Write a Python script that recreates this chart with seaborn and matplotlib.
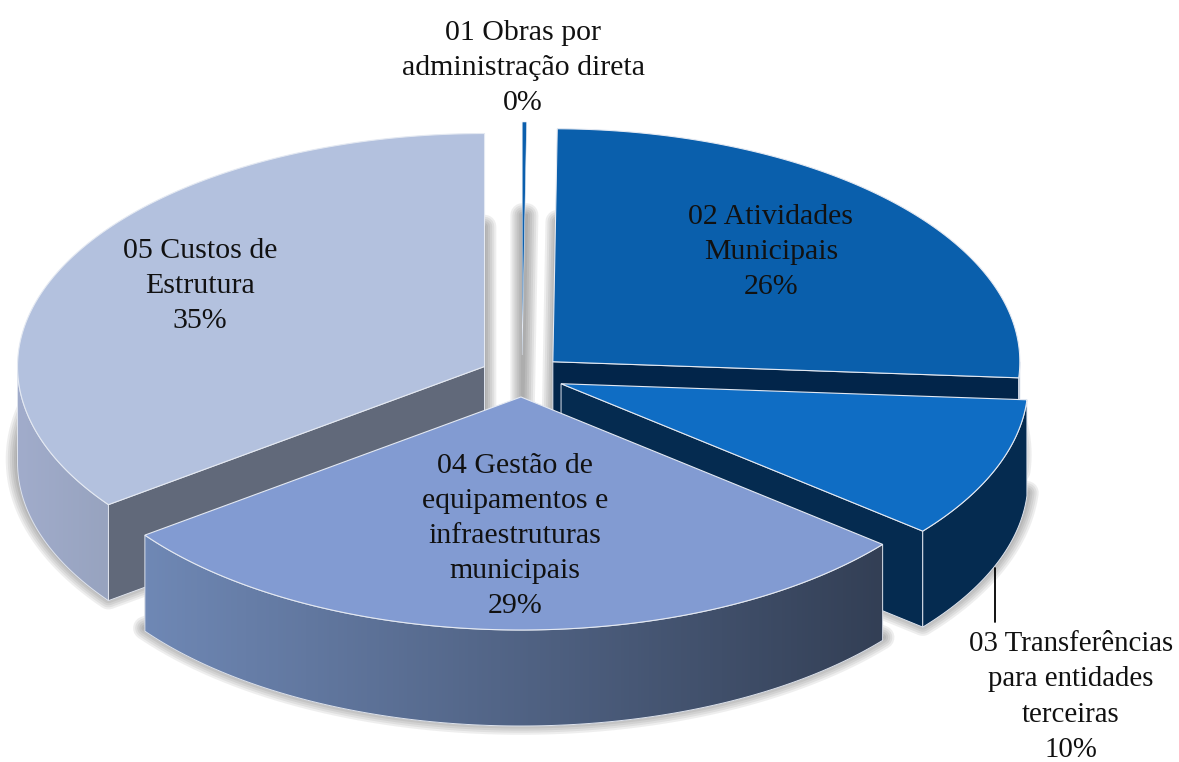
#!/usr/bin/python3

import numpy as np
import matplotlib
matplotlib.use('Agg')
import matplotlib.pyplot as plt
from matplotlib.patches import Polygon
import seaborn as sns

# -----------------------

names = ['01 Obras por\nadministração direta', '02 Atividades\nMunicipais',
	'03 Transferências\npara entidades\nterceiras',
	'04 Gestão de\nequipamentos e\ninfraestruturas\nmunicipais',
	'05 Custos de\nEstrutura']
shares = [0.15, 25.95, 9.8, 29.0, 35.1]
pct_labels = ['0%', '26%', '10%', '29%', '35%']

top_colors = ['#0b5fad', '#0a5fac', '#0f6dc4', '#829bd2', '#b3c1de']
cut_colors = ['#0b5fad', '#02254a', '#052b50', '#333f55', '#61697a']
wall_colors = [('#0b5fad', '#0b5fad'), ('#02254a', '#02254a'), ('#052b50', '#052b50'),
	('#6f88b5', '#333f55'), ('#a1accb', '#97a3bf')]

# text centres in pixels
label_pos = [(523, 68), (771, 252), (1071, 697), (515, 536), (200, 286)]
label_size = [21.5, 21.5, 20.8, 21.5, 21.5]

# -----------------------

W, H = 1179, 762
CX, CY = 522, 376
RX, RY = 467, 233
EXPLODE = 42
DEPTH = 96
FONT = 'Liberation Serif'

sns.set_theme(style='white')
plt.rcParams['font.family'] = [FONT, 'DejaVu Sans']

fig = plt.figure(figsize=(W / 100, H / 100), dpi=100)
ax = fig.add_axes([0, 0, 1, 1])

def rim(center, th):
	return np.column_stack([center[0] + RX * np.sin(th), center[1] - RY * np.cos(th)])

def draw_shadow(xy, z):
	closed = np.vstack([xy, xy[:1]])
	for lw in range(17, 1, -3):
		ax.plot(closed[:, 0], closed[:, 1] - 3, color='#303030', alpha=0.08, lw=lw,
			solid_joinstyle='round', zorder=z)

def draw_wall(xy, colors, z):
	poly = Polygon(xy, closed=True, fc=colors[1], ec='none', zorder=z)
	ax.add_patch(poly)
	if colors[0] != colors[1]:
		grad = np.array(sns.blend_palette(colors, 256))[None, :, :]
		im = ax.imshow(grad, extent=[xy[:, 0].min(), xy[:, 0].max(), H, 0], aspect='auto',
			interpolation='nearest', zorder=z + 0.1)
		im.set_clip_path(poly)
	ax.add_patch(Polygon(xy, closed=True, fc='none', ec='#dfe4ee', lw=0.7, zorder=z + 0.2))

def draw_cut(center, th, color, z):
	edge = rim(center, np.array([th]))[0]
	apex = np.array(center, dtype=float)
	down = np.array([0, DEPTH])
	xy = np.array([apex, edge, edge + down, apex + down])
	ax.add_patch(Polygon(xy, closed=True, fc=color, ec='#dfe4ee', lw=0.7, zorder=z))

# -----------------------

frac = np.array(shares) / np.sum(shares)
stops = np.concatenate([[0], np.cumsum(frac)]) * 2 * np.pi

# back to front
for z, i in enumerate([0, 4, 1, 2, 3]):
	z = z * 10 + 5
	a, b = stops[i], stops[i + 1]
	mid = (a + b) / 2
	center = (CX + EXPLODE * np.sin(mid), CY - EXPLODE * 0.5 * np.cos(mid))

	th = np.linspace(a, b, 200)
	top = np.vstack([[center], rim(center, th)])

	draw_shadow(top + [0, DEPTH], z)

	# cut faces turned towards the viewer
	if np.sin(b) > 0.01:
		draw_cut(center, b, cut_colors[i], z + 1)
	if np.sin(a) < -0.01:
		draw_cut(center, a, cut_colors[i], z + 1)

	# visible part of the round wall
	lo, hi = max(a, np.pi / 2), min(b, 3 * np.pi / 2)
	if hi > lo:
		arc = rim(center, np.linspace(lo, hi, 200))
		wall = np.vstack([arc, arc[::-1] + [0, DEPTH]])
		draw_wall(wall, wall_colors[i], z + 2)

	lw = 0.4 if i == 0 else 0.8
	ax.add_patch(Polygon(top, closed=True, fc=top_colors[i], ec='#e4e9f2', lw=lw, zorder=z + 3))

# leader line of the third label
ax.plot([995, 995], [568, 622], color='black', lw=1.3, zorder=70)

for name, pct, pos, size in zip(names, pct_labels, label_pos, label_size):
	ax.text(pos[0], pos[1], name + '\n' + pct, ha='center', va='center', fontsize=size,
		color='#111111', linespacing=1.46, zorder=80)

ax.set_xlim(0, W)
ax.set_ylim(H, 0)
ax.axis('off')

plt.savefig('out.png', dpi=100)
